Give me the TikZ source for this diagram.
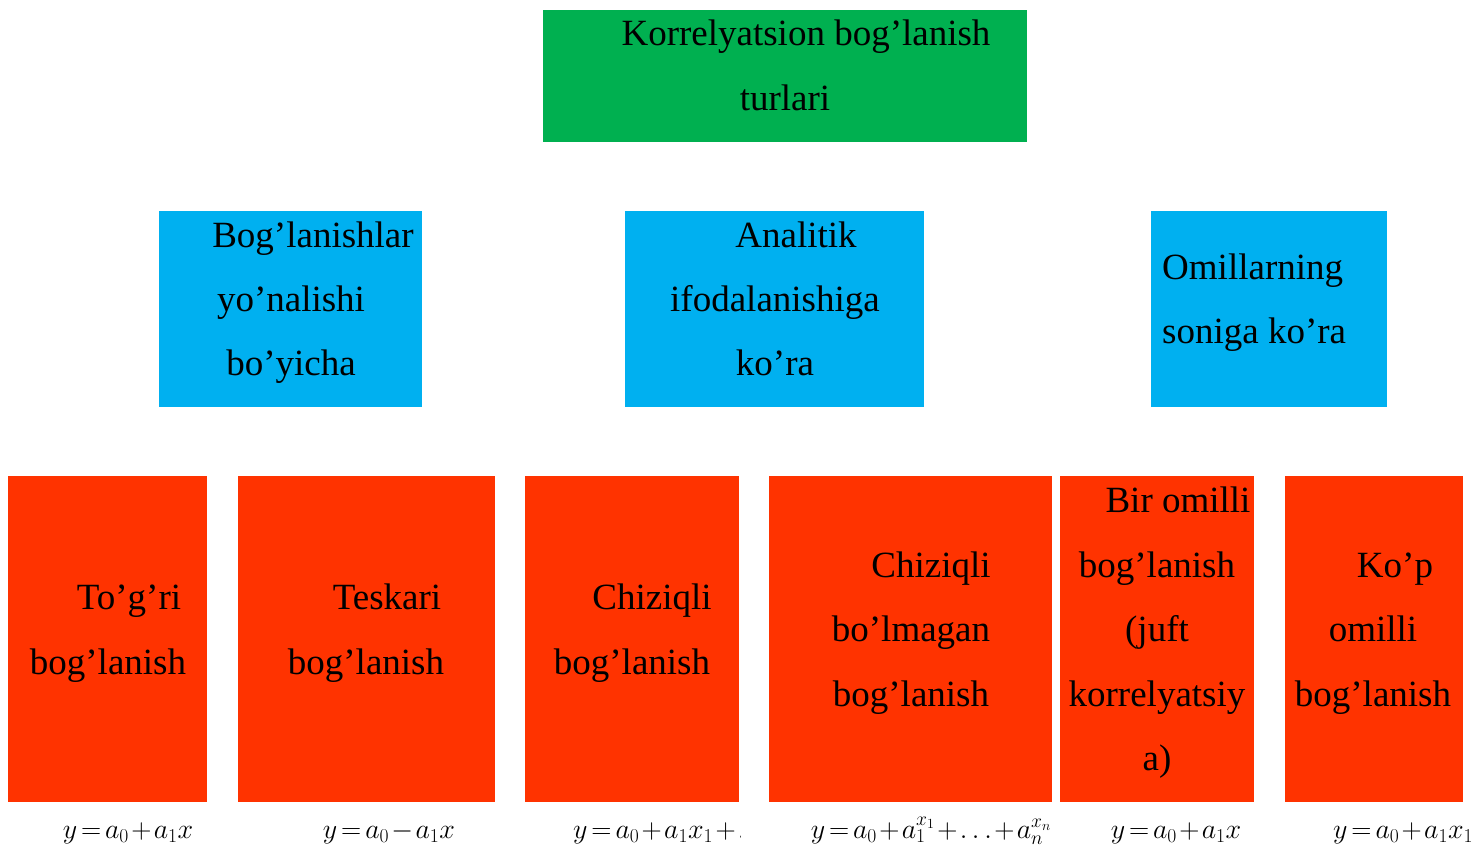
\RequirePackage{fix-cm}
\documentclass[tikz,border=0pt]{standalone}
\usepackage{fontspec}
\setmainfont{Liberation Serif}
\usepackage{tikz}
\definecolor{topgreen}{HTML}{00B050}
\definecolor{midblue}{HTML}{00B0F0}
\definecolor{leafred}{HTML}{FF3300}
\newcommand\tightmath{\medmuskip=1.5mu\relax\thickmuskip=2.5mu\relax}
\tikzset{
box/.style={
  rectangle,
  anchor=north west,
  inner sep=0pt,
  outer sep=0pt
},
txt/.style={
  anchor=base,
  inner sep=0pt,
  font=\fontsize{37}{44}\selectfont
},
frm/.style={
  anchor=base,
  inner sep=0pt,
  font=\fontsize{28}{32}\selectfont\tightmath
},
}

\begin{document}
\begin{tikzpicture}[x=1pt,y=-1pt]
\useasboundingbox (0,0) rectangle (1474,849);
% the boxes
\node[box,fill=topgreen,minimum width=484pt,minimum height=132pt] (root) at (543,10) {};
\node[box,fill=midblue,minimum width=263pt,minimum height=196pt] (dir) at (159,211) {};
\node[box,fill=midblue,minimum width=299pt,minimum height=196pt] (ana) at (625,211) {};
\node[box,fill=midblue,minimum width=236pt,minimum height=196pt] (num) at (1151,211) {};
\node[box,fill=leafred,minimum width=199pt,minimum height=326pt] (tog) at (8,476) {};
\node[box,fill=leafred,minimum width=257pt,minimum height=326pt] (tes) at (238,476) {};
\node[box,fill=leafred,minimum width=214pt,minimum height=326pt] (lin) at (525,476) {};
\node[box,fill=leafred,minimum width=283pt,minimum height=326pt] (nonlin) at (769,476) {};
\node[box,fill=leafred,minimum width=194pt,minimum height=326pt] (bir) at (1060,476) {};
\node[box,fill=leafred,minimum width=178pt,minimum height=326pt] (kop) at (1285,476) {};
% the texts
\node[txt] (root-1) at (806,45) {Korrelyatsion bog’lanish};
\node[txt] (root-2) at (785,110) {turlari};
\node[txt] (dir-1) at (313,247) {Bog’lanishlar};
\node[txt] (dir-2) at (291,311) {yo’nalishi};
\node[txt] (dir-3) at (291,375) {bo’yicha};
\node[txt] (ana-1) at (796,247) {Analitik};
\node[txt] (ana-2) at (775,311) {ifodalanishiga};
\node[txt] (ana-3) at (775,375) {ko’ra};
\node[txt,anchor=base west] (num-1) at (1162,279) {Omillarning};
\node[txt,anchor=base west] (num-2) at (1162,343) {soniga ko’ra};
\node[txt] (tog-1) at (129,609) {To’g’ri};
\node[txt] (tog-2) at (108,674) {bog’lanish};
\node[txt] (tes-1) at (387,609) {Teskari};
\node[txt] (tes-2) at (366,674) {bog’lanish};
\node[txt] (lin-1) at (652,609) {Chiziqli};
\node[txt] (lin-2) at (632,674) {bog’lanish};
\node[txt] (nonlin-1) at (931,577) {Chiziqli};
\node[txt] (nonlin-2) at (911,641) {bo’lmagan};
\node[txt] (nonlin-3) at (911,706) {bog’lanish};
\node[txt] (bir-1) at (1178,512) {Bir omilli};
\node[txt] (bir-2) at (1157,577) {bog’lanish};
\node[txt] (bir-3) at (1157,641) {(juft};
\node[txt] (bir-4) at (1157,706) {korrelyatsiy};
\node[txt] (bir-5) at (1157,770) {a)};
\node[txt] (kop-1) at (1395,577) {Ko’p};
\node[txt] (kop-2) at (1373,641) {omilli};
\node[txt] (kop-3) at (1373,706) {bog’lanish};
% the formulas
\node[frm] (tog-f) at (128,838) {$y=a_0+a_1x$};
\node[frm] (tes-f) at (389,838) {$y=a_0-a_1x$};
\begin{scope}
\clip (525,805) rectangle (740,849);
\node[frm,anchor=base west] (lin-f) at (573,838) {$y=a_0+a_1x_1+\ldots+$};
\end{scope}
\node[frm] (nonlin-f) at (931,838) {$y=a_0+a_1^{x_1}+\ldots+a_n^{x_n}$};
\node[frm] (bir-f) at (1176,838) {$y=a_0+a_1x$};
\node[frm,anchor=base west] (kop-f) at (1333,838) {$y=a_0+a_1x_1+$};
\end{tikzpicture}
\end{document}
